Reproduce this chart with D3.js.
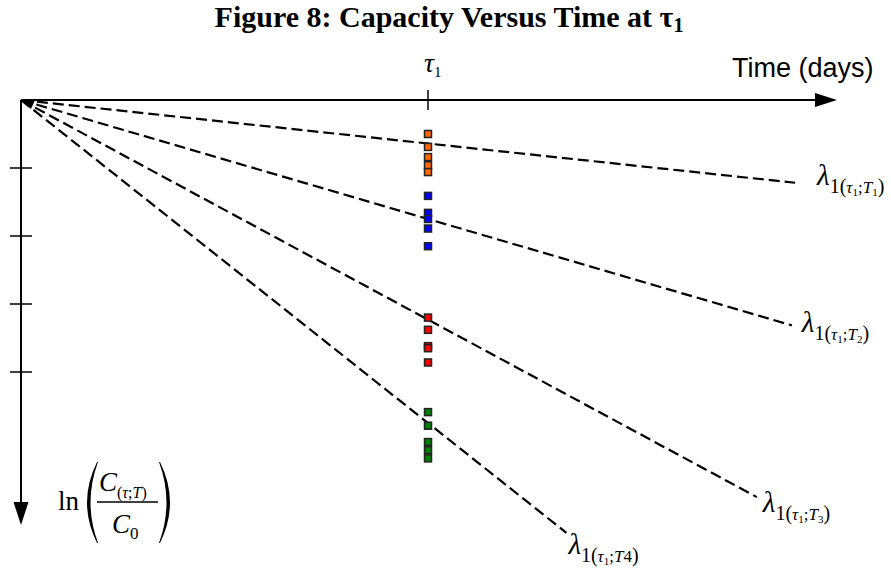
<!DOCTYPE html>
<html>
<head>
<meta charset="utf-8">
<script src="https://cdnjs.cloudflare.com/ajax/libs/d3/7.8.5/d3.min.js"></script>
<style>
  body { margin: 0; background: #fff; }
  .serif { font-family: "Liberation Serif", "Times New Roman", serif; }
  .sans { font-family: "Liberation Sans", Arial, sans-serif; }
</style>
</head>
<body>
<div id="chart"></div>
<script>
// *Data (time in units of tau1, ln-capacity in tick units)
const yTicks = [1, 2, 3, 4];
const tau1 = 1;
const lineNames = ["T1", "T2", "T3", "T4"];
const lineAtTau = [0.64, 1.75, 3.23, 4.75];
const lineEndTime = [1.902, 1.894, 1.808, 1.34];
const orangeVals = [0.5, 0.69, 0.84, 0.96, 1.06];
const blueVals = [1.41, 1.66, 1.75, 1.89, 2.15];
const redVals = [3.2, 3.38, 3.62, 3.65, 3.86];
const greenVals = [4.59, 4.79, 5.03, 5.15, 5.27];
const markerColors = ["#ff6600", "#0000ff", "#ff0000", "#008000"];

let width = 891,
  height = 581;

let svg = d3
  .select("#chart")
  .append("svg")
  .attr("width", width)
  .attr("height", height);

// *Scales
let x = d3.scaleLinear().domain([0, 2]).range([21, 835]);
let y = d3.scaleLinear().domain([0, 6.25]).range([100, 525]);

// *Title
let title = svg
  .append("text")
  .attr("class", "serif")
  .attr("x", 449)
  .attr("y", 27)
  .attr("text-anchor", "middle")
  .style("font-weight", "bold")
  .style("font-size", "30px");
title.append("tspan").text("Figure 8: Capacity Versus Time at \u03c4");
title.append("tspan").attr("dy", 5).style("font-size", "20px").text("1");

// *Axes
svg
  .append("line")
  .attr("x1", x(0))
  .attr("y1", y(0))
  .attr("x2", x(2) - 18)
  .attr("y2", y(0))
  .attr("stroke", "#000")
  .attr("stroke-width", 2);
svg
  .append("path")
  .attr(
    "d",
    `M${x(2) + 2},${y(0)} L${x(2) - 20},${y(0) - 7} L${x(2) - 20},${y(0) + 7} Z`
  )
  .attr("fill", "#000");

svg
  .append("line")
  .attr("x1", x(0))
  .attr("y1", y(0))
  .attr("x2", x(0))
  .attr("y2", y(6.25) - 20)
  .attr("stroke", "#000")
  .attr("stroke-width", 2);
svg
  .append("path")
  .attr(
    "d",
    `M${x(0)},${y(6.25)} L${x(0) - 7.5},${y(6.25) - 23} L${x(0) + 7.5},${y(6.25) - 23} Z`
  )
  .attr("fill", "#000");

// unlabelled ticks on the ln axis
svg
  .selectAll(".ytick")
  .data(yTicks)
  .enter()
  .append("line")
  .attr("class", "ytick")
  .attr("x1", x(0) - 11)
  .attr("x2", x(0) + 11)
  .attr("y1", (d) => y(d))
  .attr("y2", (d) => y(d))
  .attr("stroke", "#000")
  .attr("stroke-width", 1.5);

// tau1 tick
svg
  .append("line")
  .attr("x1", x(tau1))
  .attr("x2", x(tau1))
  .attr("y1", y(0) - 10)
  .attr("y2", y(0) + 10)
  .attr("stroke", "#000")
  .attr("stroke-width", 1.5);

let tauLabel = svg
  .append("text")
  .attr("class", "serif")
  .attr("x", x(tau1) - 4)
  .attr("y", 72)
  .style("font-size", "28px");
tauLabel.append("tspan").style("font-style", "italic").text("\u03c4");
tauLabel.append("tspan").attr("dy", 5).style("font-size", "15px").text("1");

svg
  .append("text")
  .attr("class", "sans")
  .attr("x", 732)
  .attr("y", 77)
  .style("font-size", "27px")
  .text("Time (days)");

// *Corner where the dashed lines meet
svg
  .append("path")
  .attr("d", `M${x(0)},${y(0)} l14,0 l-4,9 Z`)
  .attr("fill", "#000");

// *Dashed decay lines
let lines = lineNames.map((name, i) => ({
  name: name,
  pts: [
    [0, 0],
    [lineEndTime[i], (lineAtTau[i] * lineEndTime[i]) / tau1],
  ],
}));

let lineGen = d3
  .line()
  .x((d) => x(d[0]))
  .y((d) => y(d[1]));

svg
  .selectAll(".decay")
  .data(lines)
  .enter()
  .append("path")
  .attr("class", "decay")
  .attr("d", (d) => lineGen(d.pts))
  .attr("fill", "none")
  .attr("stroke", "#000")
  .attr("stroke-width", 2.2)
  .attr("stroke-dasharray", "11,5");

// *Lambda labels at the end of each line
let labelOffsets = [
  [22, 2],
  [10, 7],
  [6, 15],
  [2, 21],
];

lines.forEach(function (d, i) {
  let end = d.pts[1];
  let t = svg
    .append("text")
    .attr("class", "serif")
    .attr("x", x(end[0]) + labelOffsets[i][0])
    .attr("y", y(end[1]) + labelOffsets[i][1])
    .style("font-size", "29px");
  t.append("tspan").style("font-style", "italic").text("\u03bb");
  t.append("tspan").attr("dy", 8).style("font-size", "20px").text("1(");
  t.append("tspan").style("font-size", "17px").style("font-style", "italic").text("\u03c4");
  t.append("tspan").attr("dy", 3).style("font-size", "11px").text("1");
  t.append("tspan").attr("dy", -3).style("font-size", "17px").text(";");
  t.append("tspan").style("font-size", "17px").style("font-style", "italic").text("T");
  if (i < 3) {
    t.append("tspan").attr("dy", 3).style("font-size", "11px").text(String(i + 1));
    t.append("tspan").attr("dy", -3).style("font-size", "20px").text(")");
  } else {
    t.append("tspan").style("font-size", "17px").text("4");
    t.append("tspan").style("font-size", "20px").text(")");
  }
});

// *Measured points at tau1
let groups = [orangeVals, blueVals, redVals, greenVals];
groups.forEach(function (vals, i) {
  svg
    .selectAll(".pt" + i)
    .data(vals)
    .enter()
    .append("rect")
    .attr("class", "pt" + i)
    .attr("x", x(tau1) - 3.5)
    .attr("y", (d) => y(d) - 3.5)
    .attr("width", 7)
    .attr("height", 7)
    .attr("fill", markerColors[i])
    .attr("stroke", "#222")
    .attr("stroke-width", 1.5);
});

// *ln(C(tau;T)/C0) label at the bottom of the y axis
let lx = 58,
  ly = 510;
svg
  .append("text")
  .attr("class", "serif")
  .attr("x", lx)
  .attr("y", ly)
  .style("font-size", "27px")
  .text("ln");

// big parentheses drawn as crescents
function paren(cx, top, bot, dir) {
  let mid = (top + bot) / 2;
  return (
    `M${cx},${top} Q${cx - dir * 20},${mid} ${cx},${bot}` +
    ` L${cx + dir * 1},${bot} Q${cx - dir * 14},${mid} ${cx + dir * 1},${top} Z`
  );
}
svg.append("path").attr("d", paren(97, 462, 543, 1)).attr("fill", "#000");
svg.append("path").attr("d", paren(160, 462, 543, -1)).attr("fill", "#000");

let num = svg
  .append("text")
  .attr("class", "serif")
  .attr("x", 99)
  .attr("y", 491)
  .style("font-size", "27px");
num.append("tspan").style("font-style", "italic").text("C");
num.append("tspan").attr("dy", 7).style("font-size", "16px").text("(");
num.append("tspan").style("font-size", "16px").style("font-style", "italic").text("\u03c4");
num.append("tspan").style("font-size", "16px").text(";");
num.append("tspan").style("font-size", "16px").style("font-style", "italic").text("T");
num.append("tspan").style("font-size", "16px").text(")");

svg
  .append("line")
  .attr("x1", 97)
  .attr("x2", 158)
  .attr("y1", 502)
  .attr("y2", 502)
  .attr("stroke", "#000")
  .attr("stroke-width", 1.5);

let den = svg
  .append("text")
  .attr("class", "serif")
  .attr("x", 112)
  .attr("y", 533)
  .style("font-size", "27px");
den.append("tspan").style("font-style", "italic").text("C");
den.append("tspan").attr("dy", 6).style("font-size", "17px").text("0");
</script>
</body>
</html>
